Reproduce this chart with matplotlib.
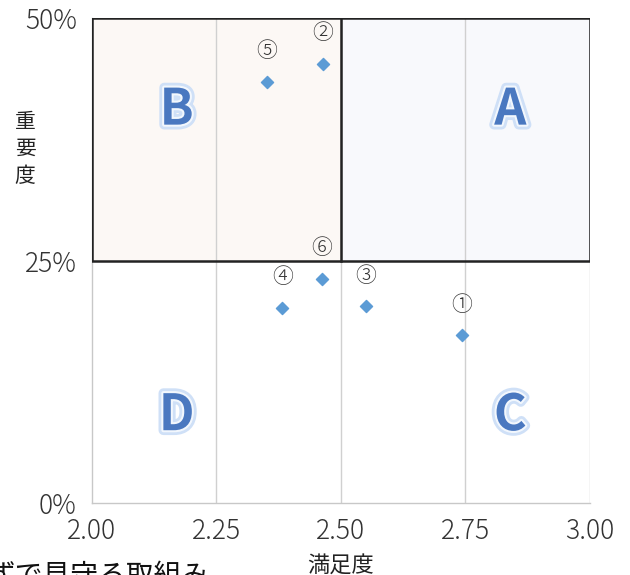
import matplotlib.pyplot as plt
import matplotlib.patheffects as pe
from matplotlib.patches import Rectangle

plt.rcParams["font.family"] = ["Noto Sans CJK JP", "DejaVu Sans"]

# 満足度 (x) と 重要度 (y) の散布データ
labels = ["①", "②", "③", "④", "⑤", "⑥"]
satisfaction = [2.743, 2.464, 2.550, 2.382, 2.351, 2.462]
importance = [0.173, 0.453, 0.203, 0.201, 0.434, 0.231]

x_ticks = [2.00, 2.25, 2.50, 2.75, 3.00]
y_ticks = [0.0, 0.25, 0.50]
quadrants = {"A": (2.84, 0.405), "B": (2.17, 0.405), "C": (2.84, 0.09), "D": (2.17, 0.09)}

fig = plt.figure(figsize=(6.3, 5.75), dpi=100)
ax = fig.add_axes([0.146, 0.1252, 0.7905, 0.8435])
ax.set_xlim(2.0, 3.0)
ax.set_ylim(0.0, 0.5)

# 上側2象限の背景と枠
ax.add_patch(Rectangle((2.0, 0.25), 0.5, 0.25, facecolor="#fcf8f5", edgecolor="none", zorder=0))
ax.add_patch(Rectangle((2.5, 0.25), 0.5, 0.25, facecolor="#f8f9fc", edgecolor="none", zorder=0))

for x in x_ticks[1:]:
    ax.axvline(x, color="#d0d0d0", linewidth=1, zorder=1)

ax.add_patch(Rectangle((2.0, 0.25), 1.0, 0.25, facecolor="none", edgecolor="#222222",
                       linewidth=1.8, zorder=3))
ax.plot([2.5, 2.5], [0.25, 0.5], color="#222222", linewidth=1.8, zorder=3)

for s in ["top", "right"]:
    ax.spines[s].set_visible(False)
for s in ["left", "bottom"]:
    ax.spines[s].set_color("#c8c8c8")
    ax.spines[s].set_linewidth(1)

ax.scatter(satisfaction, importance, marker="D", s=38, color="#5b9bd5", zorder=4)
for lab, x, y in zip(labels, satisfaction, importance):
    ax.annotate(lab, (x, y), xytext=(0, 22), textcoords="offset points",
                ha="center", va="center", fontsize=15, fontweight="light",
                color="#333333", zorder=5)

glow = [pe.Stroke(linewidth=7, foreground="#cfe0f7"),
        pe.Stroke(linewidth=3, foreground="#f2f7fd"),
        pe.Normal()]
for q, (x, y) in quadrants.items():
    ax.text(x, y, q, ha="center", va="center", fontsize=36, fontweight="bold",
            color="#4a78c0", path_effects=glow, zorder=5)

ax.set_xticks(x_ticks)
ax.set_xticklabels([f"{v:.2f}" for v in x_ticks], fontsize=19, color="#333333", fontweight="light")
ax.set_yticks(y_ticks)
ax.set_yticklabels([f"{int(v * 100)}%" for v in y_ticks], fontsize=19, color="#333333",
                   fontweight="light")
ax.tick_params(length=0)
ax.tick_params(axis="x", pad=10)
ax.tick_params(axis="y", pad=11)

fig.text(0.04, 0.741, "重\n要\n度", ha="center", va="center", fontsize=15,
         linespacing=1.3, color="#222222")
fig.text(0.54, 0.015, "満足度", ha="center", va="center", fontsize=16, color="#222222")
fig.text(-0.02, -0.002, "ずで見守る取組み", ha="left", va="center", fontsize=20, color="#111111")

fig.savefig("out.png", dpi=100)
